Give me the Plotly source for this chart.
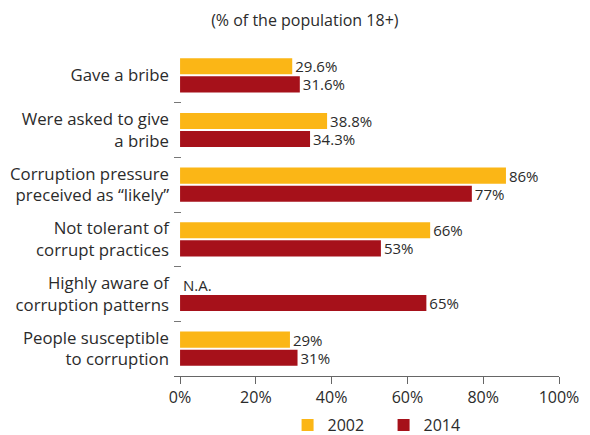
import plotly.graph_objects as go

categories = [
    "Gave a bribe",
    "Were asked to give<br>a bribe",
    "Corruption pressure<br>preceived as “likely”",
    "Not tolerant of<br>corrupt practices",
    "Highly aware of<br>corruption patterns",
    "People susceptible<br>to corruption",
]
values_2002 = [29.6, 38.8, 86, 66, 0, 29]
labels_2002 = ["29.6%", "38.8%", "86%", "66%", "N.A.", "29%"]
values_2014 = [31.6, 34.3, 77, 53, 65, 31]
labels_2014 = ["31.6%", "34.3%", "77%", "53%", "65%", "31%"]

x_tickvals = [0, 20, 40, 60, 80, 100]
x_ticktext = ["0%", "20%", "40%", "60%", "80%", "100%"]

FONT = "Open Sans, Noto Sans, sans-serif"
TXT = "#2b2b2b"
FS = 16
FSY = 16.8
FSB = 15

# the page body has an 8px default margin, so the figure is drawn 8px right/down
fig = go.Figure()
fig.add_trace(go.Bar(
    y=categories, x=values_2002, orientation="h", name="2002",
    marker=dict(color="#FBB616", line=dict(width=0)),
    text=labels_2002, textposition="outside", cliponaxis=False,
    constraintext="none",
    textfont=dict(size=FSB, color=TXT, family=FONT),
))
fig.add_trace(go.Bar(
    y=categories, x=values_2014, orientation="h", name="2014",
    marker=dict(color="#A6111A", line=dict(width=0)),
    text=labels_2014, textposition="outside", cliponaxis=False,
    constraintext="none",
    textfont=dict(size=FSB, color=TXT, family=FONT),
))

fig.update_layout(
    width=582, height=427,
    margin=dict(l=166, r=31, t=40, b=59, autoexpand=False),
    paper_bgcolor="white", plot_bgcolor="white",
    barmode="group", bargap=0.34, bargroupgap=0.11,
    font=dict(family=FONT, size=FS, color=TXT),
    title=dict(text="(% of the population 18+)", x=0.51, xanchor="center",
               y=0.972, yanchor="middle", font=dict(size=FS, color=TXT, family=FONT)),
    showlegend=True,
    legend=dict(orientation="h", x=0.295, xanchor="left", y=0.023, yanchor="middle",
                yref="container",
                font=dict(size=FS, color=TXT, family=FONT), traceorder="normal",
                itemwidth=30, entrywidth=51, itemsizing="constant"),
    uniformtext=dict(mode=False),
)
fig.update_xaxes(
    range=[-1.6, 100], tickvals=x_tickvals, ticktext=x_ticktext,
    showgrid=False, zeroline=False, showline=True, linecolor="#666666", linewidth=1,
    ticks="outside", ticklen=7, tickcolor="#666666", automargin=False,
    tickfont=dict(size=FS, color=TXT, family=FONT),
)
fig.update_yaxes(
    autorange="reversed", showgrid=False, zeroline=False, showline=False,
    ticks="inside", tickson="boundaries", ticklen=7, tickcolor="#777777",
    automargin=False,
    tickfont=dict(size=FSY, color=TXT, family=FONT), ticklabelstandoff=4,
)

fig.write_html("out.html")
